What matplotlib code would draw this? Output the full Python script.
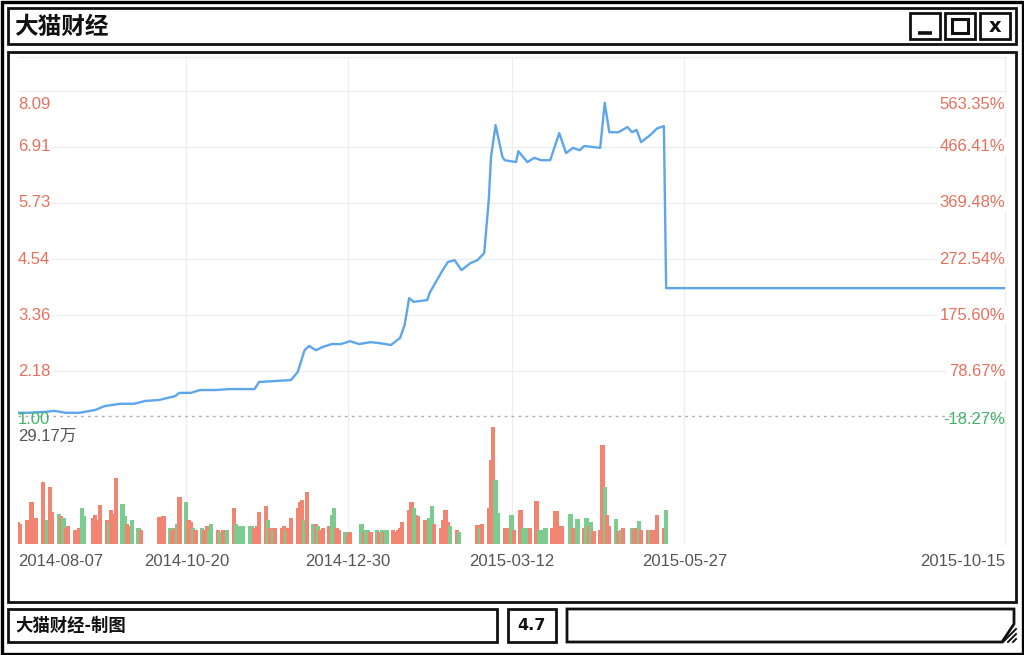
import numpy as np
import pandas as pd
import matplotlib
matplotlib.use('Agg')
import matplotlib.pyplot as plt
from matplotlib.patches import Rectangle, Polygon

plt.rcParams['font.family'] = ['Liberation Sans', 'Noto Sans CJK SC', 'DejaVu Sans']

# 价格走势(距 2014-08-07 的天数, 价格)
start = pd.Timestamp('2014-08-07')
end = pd.Timestamp('2015-10-15')
price_day = [0, 5, 12, 16, 21, 27, 34, 38, 45, 51, 56, 62, 69, 71, 76, 80, 87, 93, 104, 106,
             113, 120, 123, 126, 128, 131, 134, 138, 142, 146, 150, 155, 159, 164, 168, 170, 172, 174, 177, 180,
             181, 186, 189, 192, 195, 199, 202, 205, 207, 208, 210, 213, 214, 219, 220, 224, 227, 230, 234, 238,
             241, 244, 247, 249, 256, 258, 260, 264, 268, 270, 272, 274, 278, 281, 284, 285, 434]
price_val = [1.30, 1.30, 1.32, 1.34, 1.30, 1.30, 1.36, 1.44, 1.49, 1.49, 1.55, 1.57, 1.65, 1.72, 1.72, 1.78, 1.78, 1.80, 1.80, 1.95,
             1.97, 1.99, 2.16, 2.62, 2.71, 2.62, 2.69, 2.75, 2.75, 2.81, 2.75, 2.79, 2.77, 2.73, 2.88, 3.15, 3.72, 3.64, 3.66, 3.68,
             3.83, 4.25, 4.48, 4.52, 4.31, 4.46, 4.52, 4.67, 5.79, 6.70, 7.37, 6.70, 6.63, 6.59, 6.82, 6.59, 6.68, 6.63, 6.63, 7.20,
             6.78, 6.89, 6.84, 6.93, 6.89, 7.84, 7.22, 7.22, 7.33, 7.22, 7.27, 7.01, 7.16, 7.30, 7.35, 3.93, 3.93]
base_price = 1.2235

# 成交量(万), 按月
vol_aug = [5.5, 5.0, 6.0, 5.5, 10.5, 5.0, 6.5, 15.5, 5.0, 6.0, 14.2, 8.0, 7.5, 7.0, 6.5, 4.0, 4.5]
vol_sep = [3.5, 3.5, 4.0, 9.0, 7.0, 6.5, 7.2, 6.0, 9.7, 6.0, 5.5, 8.5, 7.5, 16.4, 10.0, 7.0, 5.0, 4.5, 6.0, 4.0, 3.5]
vol_oct = [6.7, 4.5, 7.0, 4.0, 3.5, 4.0, 5.0, 11.7, 10.5, 6.0, 5.5, 4.0, 3.5, 4.0, 3.5, 4.5, 3.5, 5.0]
vol_nov = [3.5, 3.0, 3.5, 3.5, 3.5, 9.0, 5.0, 4.5, 4.5, 4.5, 4.5, 4.5, 4.0, 4.5, 8.0, 9.5, 6.0, 4.0, 3.5, 4.0]
vol_dec = [4.0, 4.5, 3.5, 4.0, 6.5, 9.0, 10.5, 11.0, 6.0, 13.0, 5.0, 5.0, 4.5, 3.5, 4.0, 4.5, 7.2, 9.0, 4.0, 3.5, 3.0, 2.5, 3.0]
vol_jan = [5.0, 3.0, 3.5, 3.5, 3.0, 3.5, 3.0, 3.5, 3.0, 3.5, 3.5, 3.0, 3.5, 4.0, 5.5, 8.5, 10.5, 9.0, 7.2, 7.0]
vol_feb = [6.0, 5.0, 6.5, 9.5, 5.0, 4.0, 6.0, 8.5, 5.5, 4.5, 3.5, 3.0, 4.7, 4.0, 5.0]
vol_mar = [9.0, 21.0, 29.17, 16.0, 7.7, 4.0, 4.0, 4.0, 7.2, 3.5, 8.6, 4.0, 4.0, 4.0, 4.0, 10.7, 3.5, 3.5, 3.5, 4.0, 4.0, 8.2]
vol_apr = [8.2, 4.0, 4.5, 7.5, 4.0, 4.0, 6.2, 4.0, 6.5, 4.5, 5.5, 3.3, 3.5, 24.7, 14.2, 7.2, 4.5, 6.2, 3.3, 3.5, 4.0]
vol_may = [4.0, 3.8, 4.0, 5.7, 3.5, 3.5, 3.5, 3.5, 3.5, 7.2, 4.0, 8.6]
# r = 涨, g = 跌
col_str = ("rrrrrrrrrgrrgrgrr" + "rrrggrrrrrgrrrggrrggr" + "rrrgrrgrgrrgrgrrgg" +
           "rgrrgrggggggrrrrgrgr" + "rrgrrrrrgrgrgrrrggrrgrr" + "grggrgrgrgrrrrrrrggr" +
           "rrggrrrrrgrgrgr" + "rrrggrrrgrrgggrrggggrr" + "rrrgrrgrgrgrrrgrrgrgr" + "grrgrrgrrrrg")
holidays = ['2014-09-08', '2014-10-01', '2014-10-02', '2014-10-03', '2014-10-06', '2014-10-07',
            '2015-01-01', '2015-01-02', '2015-02-18', '2015-02-19', '2015-02-20', '2015-02-23',
            '2015-02-24', '2015-04-06', '2015-05-01']

price_ticks = [1.00, 2.18, 3.36, 4.54, 5.73, 6.91, 8.09]
pct_labels = ['-18.27%', '78.67%', '175.60%', '272.54%', '369.48%', '466.41%', '563.35%']
vol_max = 29.17
date_ticks = ['2014-08-07', '2014-10-20', '2014-12-30', '2015-03-12', '2015-05-27', '2015-10-15']

volumes = vol_aug + vol_sep + vol_oct + vol_nov + vol_dec + vol_jan + vol_feb + vol_mar + vol_apr + vol_may
trade_dates = pd.bdate_range('2014-08-07', '2015-05-19')
trade_dates = trade_dates[~trade_dates.isin(pd.to_datetime(holidays))]
price_dates = start + pd.to_timedelta(price_day, unit='D')

RED = '#f28571'
GREEN = '#7dcc8f'
LRED = '#e8705c'
LGREEN = '#3fb565'
GREY = '#555555'

W, H = 1024, 655
fig = plt.figure(figsize=(W / 100, H / 100), dpi=100)


def fax(x0, y0, x1, y1):
    return [x0 / W, 1 - y1 / H, (x1 - x0) / W, (y1 - y0) / H]


# 窗口外框
frame = fig.add_axes([0, 0, 1, 1])
frame.set_xlim(0, W)
frame.set_ylim(H, 0)
frame.axis('off')
lw = 2.0
frame.add_patch(Rectangle((1.5, 1.5), W - 3, H - 3, fill=False, lw=2.4, ec='black'))
frame.add_patch(Rectangle((8, 8), 1008, 36, fill=False, lw=lw, ec='#111111'))
frame.add_patch(Rectangle((8, 52), 1008, 550, fill=False, lw=lw, ec='#111111'))
frame.text(14, 27, '大猫财经', fontsize=17, fontweight='heavy', family=['Noto Sans CJK SC'],
           va='center', ha='left', color='#111111')
for bx in [910, 945, 980]:
    frame.add_patch(Rectangle((bx, 13), 30, 26, fill=False, lw=lw, ec='#111111'))
frame.plot([918, 932], [33, 33], color='#111111', lw=2.6, solid_capstyle='butt')
frame.add_patch(Rectangle((952, 19), 16, 14, fill=False, lw=2.2, ec='#111111'))
frame.text(995, 26.5, 'x', fontsize=14, fontweight='bold', family=['DejaVu Sans'],
           ha='center', va='center', color='#111111')
# 底部状态栏
frame.add_patch(Rectangle((8, 609), 489, 33, fill=False, lw=lw, ec='#111111'))
frame.add_patch(Rectangle((508, 609), 48, 33, fill=False, lw=lw, ec='#111111'))
frame.add_patch(Polygon([(567, 609), (1014, 609), (1014, 624), (1002, 642), (567, 642)],
                        closed=True, fill=False, lw=lw, ec='#111111'))
for k in range(3):
    frame.plot([1003 + 5 * k, 1016], [642, 629 + 5 * k], color='#111111', lw=1.4)
frame.text(15, 626, '大猫财经-制图', fontsize=12.5, fontweight='heavy', family=['Noto Sans CJK SC'],
           va='center', ha='left', color='#111111')
frame.text(532, 626, '4.7', fontsize=11.5, fontweight='bold', family=['DejaVu Sans'],
           va='center', ha='center', color='#111111')

# 图表背景与竖向网格
bg = fig.add_axes(fax(18, 57, 1005, 544))
bg.set_xlim(start, end)
bg.set_ylim(0, 1)
bg.set_xticks([])
bg.set_yticks([])
for s in bg.spines.values():
    s.set_color('#ececec')
    s.set_linewidth(0.8)
bg.spines['left'].set_visible(False)
bg.spines['bottom'].set_visible(False)
for d in date_ticks[1:-1]:
    bg.axvline(pd.Timestamp(d), color='#eeeeee', lw=0.9)

# 价格
ax = fig.add_axes(fax(18, 91, 1005, 427))
ax.patch.set_alpha(0)
ax.set_xlim(start, end)
ax.set_ylim(price_ticks[0], price_ticks[-1])
ax.axis('off')
for t in price_ticks[1:]:
    ax.axhline(t, color='#eeeeee', lw=0.9, zorder=0)
ax.axhline(base_price, color='#b0b0b0', lw=1.0, ls=(0, (2, 3)), zorder=1)
ax.plot(price_dates, price_val, color='#5ea6ea', lw=1.7, zorder=3)
ytr = ax.get_yaxis_transform()
for i, (t, p) in enumerate(zip(price_ticks, pct_labels)):
    c = LGREEN if i == 0 else LRED
    va = 'bottom' if i == 0 else ('top' if i == len(price_ticks) - 1 else 'center')
    dy = 0.0 if va == 'center' else (-0.12 if va == 'top' else 0.0)
    bb = None if i == 0 else dict(facecolor='white', edgecolor='none', pad=1.0)
    ax.text(0.0, t + dy, f'{t:.2f}', transform=ytr, ha='left', va=va, color=c,
            fontsize=12, zorder=4, bbox=bb)
    ax.text(1.0, t + dy, p, transform=ytr, ha='right', va=va, color=c,
            fontsize=12, zorder=4, bbox=bb)

# 成交量
vol = fig.add_axes(fax(18, 427, 1005, 544))
vol.patch.set_alpha(0)
vol.set_xlim(start, end)
vol.set_ylim(0, vol_max)
vol.axis('off')
colors = [RED if c == 'r' else GREEN for c in col_str]
vol.bar(trade_dates, volumes, width=1.9, color=colors, linewidth=0)
vol.text(0.0, vol_max - 0.5, f'{vol_max:.2f}万', transform=vol.get_yaxis_transform(),
         ha='left', va='top', color=GREY, fontsize=12)
xtr = vol.get_xaxis_transform()
for i, d in enumerate(date_ticks):
    ha = 'left' if i == 0 else ('right' if i == len(date_ticks) - 1 else 'center')
    vol.text(pd.Timestamp(d), -0.15, d, transform=xtr, ha=ha, va='center',
             color=GREY, fontsize=12)

fig.savefig('out.png', dpi=100)
